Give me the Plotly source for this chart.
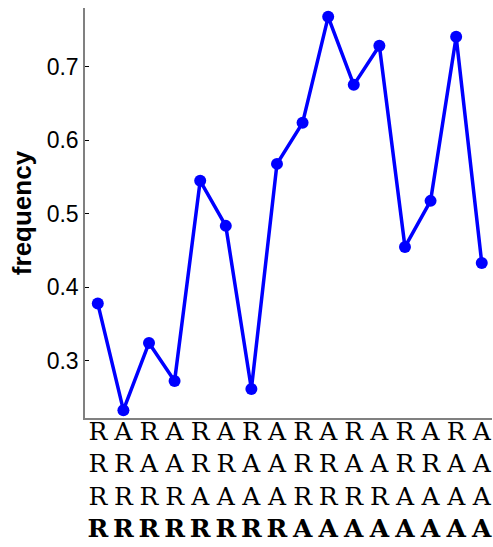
import plotly.graph_objects as go

row1 = ["R", "A"] * 8
row2 = ["R", "R", "A", "A"] * 4
row3 = ["R"] * 4 + ["A"] * 4 + ["R"] * 4 + ["A"] * 4
row4 = ["R"] * 8 + ["A"] * 8
freq = [0.378, 0.233, 0.3245, 0.2728, 0.545, 0.4837, 0.2619, 0.568,
        0.6238, 0.768, 0.6755, 0.7286, 0.455, 0.5177, 0.7408, 0.4333]

x = list(range(len(freq)))
ticktext = [f"{a}<br>{b}<br>{c}<br><b>{d}</b>" for a, b, c, d in zip(row1, row2, row3, row4)]

fig = go.Figure(go.Scatter(
    x=x, y=freq, mode="lines+markers",
    line=dict(color="#0000ff", width=3.5),
    marker=dict(color="#0000ff", size=12),
))
fig.update_layout(
    width=493, height=547,
    margin=dict(l=85, r=1, t=8, b=129),
    plot_bgcolor="white", paper_bgcolor="white",
    showlegend=False,
)
fig.update_xaxes(
    range=[-0.5, 15.4], tickvals=x, ticktext=ticktext,
    showline=True, linecolor="#808080", linewidth=1.5,
    showgrid=False, zeroline=False, ticks="",
    tickfont=dict(family="DejaVu Serif", size=25, color="black"),
    mirror=False, automargin=False, ticklabelstandoff=-10,
)
fig.update_yaxes(
    range=[0.2224, 0.780], tickvals=[0.3, 0.4, 0.5, 0.6, 0.7],
    ticktext=["0.3", "0.4", "0.5", "0.6", "0.7"],
    showline=True, linecolor="#808080", linewidth=1.5,
    showgrid=False, zeroline=False,
    ticks="inside", ticklen=4, tickcolor="black", tickwidth=1,
    tickfont=dict(family="Liberation Sans", size=23, color="black"),
    title=dict(text="<b>frequency</b>", font=dict(family="Liberation Sans", size=26, color="black"), standoff=8),
    automargin=False,
)
fig.write_html("out.html")
